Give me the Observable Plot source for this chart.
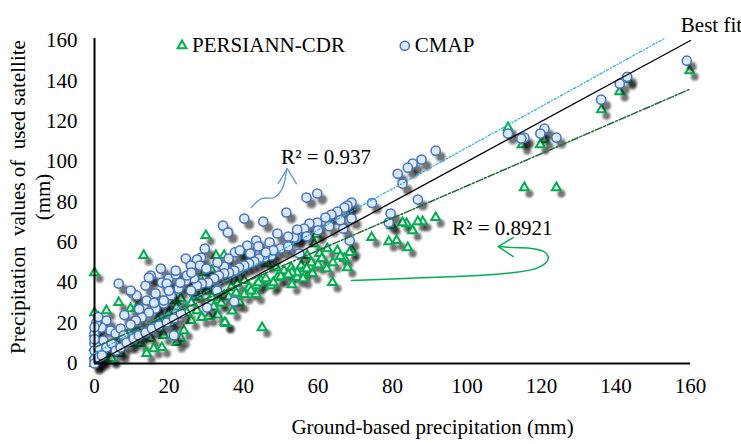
<!DOCTYPE html>
<html>
<head>
<meta charset="utf-8">
<script src="https://cdn.jsdelivr.net/npm/d3@7"></script>
<script src="https://cdn.jsdelivr.net/npm/@observablehq/plot@0.6"></script>
<style>
  html, body { margin: 0; padding: 0; background: #fff; }
</style>
</head>
<body>
<div id="chart"></div>
<script>
// ---- Data ----
const xTicks = [0, 20, 40, 60, 80, 100, 120, 140, 160];
const yTicks = [0, 20, 40, 60, 80, 100, 120, 140, 160];

// CMAP: [ground-based, satellite]
const cmapPoints = [
  [159,150],[143,142],[141,138.6],[136,130.7],[120.8,116.3],[119.7,113.9],[124,111.9],[115.4,111.9],[114.6,111.4],[111,113.9],
  [91.6,105.4],[87.8,101],[85.4,99],[84.1,97],[81.4,94],[82.7,89.1],[86.8,81.2],[79.5,74.3],[79,69.8],
  [74.5,79.5],[56.9,82.2],[59.8,84.2],[69,79.7],[67.9,78.2],[67.1,77.2],[65.2,75.2],[63.6,73.8],[62,72.3],[59.8,69.8],
  [57.7,69.3],[56.3,66.8],[54.4,64.4],[69,71.8],[66.8,66.8],[68.5,60.9],[55,54.5],[54.2,62.4],[51.5,74.8],[53.6,62.4],[54.4,66.3],
  [40.2,71.8],[45.3,70.3],[34.5,68.3],[35.8,64.9],[49.1,64.4],[52,62.9],[43.4,60.9],[41,58.4],[29.6,56.9],[37.7,55],
  [41.8,54.5],[28.6,52.5],[27.5,51.5],[28.3,48.5],[24.5,52],[47.4,53.5],[45.6,52.5],[44.2,52],[42.9,50.5],[41.5,49.5],
  [40.2,48.5],[38.8,47.5],[37.5,46],[36.1,45],[34.8,48],[34.8,44.6],[33.4,43.6],[32.1,42.1],[30.5,40.1],[28.8,39.6],
  [27.5,38.6],[25.9,36.1],[26.7,42.1],[24.8,43.1],[32.9,36.1],[37.5,30.7],[30.2,27.7],
  [6.5,39.6],[10,35.1],[11.3,33.7],[13.7,38.6],[15.1,43.6],[14,31.2],[16.4,34.7],[18.1,40.1],[19.9,42.1],[21.8,44.1],
  [25.9,48.5],[24.5,41.1],[22.6,37.1],[20.5,33.7],[18.6,29.7],[16.4,27.2],[14.6,25.2],[12.7,22.8],[11.1,21.3],[9.7,19.3],
  [3.2,21.3],[1.9,17.8],[4.3,16.3],[5.7,14.9],[7,17.3],[7.8,13.9],[0.5,20.3],[0,14.9],[0,9.9],[0,6.4],
  [1.1,7.9],[2.4,11.4],[3.2,7.9],[4.6,9.9],[5.7,6.4],[7,7.9],[8.6,10.4],[10.5,12.4],[11.9,13.9],[13.7,15.3],
  [15.4,17.3],[17.3,18.8],[19.4,20.3],[21.3,22.3],[23.2,24.8],[21.3,13.9],[18.6,31.2],[17.8,47],[19.4,39.6],[14.6,42.6],
  [9.7,36.1],[21.8,46],[24.8,43.6],[0,2],[0,0],[1,3],[0,12],[2,4],[0,18],[1,23],
  [8,24],[12,27],[16,30],[20,36],[23,40],[26,45],[30,47],[33,50],[36,52],[39,56],
  [44,58],[47,60],[50,57],[52,58],[57,63],[60,66],[63,68],[66,71],[48,56],[46,55]
];

// PERSIANN-CDR: [ground-based, satellite]
const persiannPoints = [
  [159.8,145],[143.1,140.6],[141,134.7],[136.1,125.7],[120.8,110.9],[119.7,108.4],[114.8,108.4],[111,116.8],[115.4,87.1],[124,87.1],
  [91.6,72.3],[88.1,70.3],[86.8,70.3],[85.4,65.8],[83.8,69.3],[84.1,57.4],[82.7,69.8],[79.8,68.3],[74.4,62.4],[79,60.4],[81.1,60.9],
  [59.6,63.9],[59,59.4],[69,56.4],[68.5,55],[65.2,55.9],[62.5,56.9],[60.4,54.5],[67.1,52],[67.9,47.5],[57.1,53.5],
  [58.2,50],[55.5,48.5],[62.3,47],[58.5,44.6],[55.8,45],[63.9,40.1],[54.4,42.6],
  [29.9,63.4],[32.6,53.5],[34.8,53.5],[39.6,55],[41.5,54.5],[31.5,46],[29.4,45],[46.4,49.5],[48.8,47.5],[50.9,46],
  [52.8,47.5],[54.4,45],[49.1,42.6],[47.4,38.6],[44.7,41.1],[43.4,38.6],[41.5,37.6],[40.2,41.1],[38.3,39.6],[36.7,37.6],
  [43.4,34.2],[40.2,34.2],[34.8,33.7],[33.4,31.2],[31.5,32.7],[27.5,26.2],[28.8,22.8],[30.7,23.3],[35.3,19.8],[45,17.8],
  [24.8,25.2],[25.9,21.3],[35,20.3],
  [0,45],[13.2,53.5],[6.5,30.2],[3.2,26.2],[9.7,27.2],[11.3,27.7],[16.4,28.7],[21.8,31.2],[23.2,32.2],[18.6,13.9],
  [15.1,12.4],[15.9,7.4],[18.1,7.9],[23.2,12.4],[9.7,9.9],[7,5],[0,25.2],[1.1,22.8],[8.4,13.9],[12.4,9.9],
  [14,5],[4.3,3],[16.7,17.3],[20.5,19.8],[24,16.3],[19.9,23.8],[22.1,10.4],[4.6,2.5],[53,45],
  [26,30],[28,33],[30,36],[32,28],[34,30],[36,33],[38,35],[39,30],[42,36],[44,40],
  [46,42],[48,40],[50,43],[52,44],[53,39],[56,42],[57,47],[60,49],[61,52],[64,50],
  [66,53],[29,40],[31,38],[27,35],[22,28],[20,25],[17,22],[12,15],[10,18],[6,10],
  [5,8],[3,6],[2,12],[0,4],[0,8],[0,15],[0,0],[1,1],[2,2],[37,26],[33,24]
];

// Trend lines: [x, y] end points
const bestFitLine = [[0,0],[160,160]];
const cmapFitLine = [[0,5],[153,161]];
const persiannFitLine = [[0,8],[160,136]];

// Annotation arrows (data coordinates)
const cmapArrow = [[42,77.2],[44.9,81.7],[48.2,82.2],[50.4,86.6],[51.6,96.5]];
const cmapArrowHead = [[49.3,89.1],[51.75,96.5],[54.2,89.1]];
const persiannArrow = [[69,41.1],[83.3,42.1],[110.2,44.6],[119.1,47.5],[121.8,52],[121,55],[117.5,56.9],[112.4,57.4],[108.4,57.9]];
const persiannArrowHead = [[112.4,62.4],[108.4,57.9],[112.4,53]];

const labels = {
  x: "Ground-based precipitation (mm)",
  y1: "Precipitation  values of  used satellite",
  y2: "(mm)",
  r2cmap: "R² = 0.937",
  r2pers: "R² = 0.8921",
  best: "Best fit",
  persiann: "PERSIANN-CDR",
  cmap: "CMAP"
};

const serif = "Liberation Serif, Times New Roman, serif";
const green = "#00b050";
const blue = "#4472c4";
const fs = 21;
const px = d => d[0], py = d => d[1];

// soft drop shadow built from layered, offset, translucent dots
const shadowLayers = (data, base) => [
  [base + 3.0, 0.1], [base + 2.0, 0.15], [base + 1.0, 0.2], [base, 0.25]
].map(([r, op]) => Plot.dot(data, {x: px, y: py, r, dx: 5, dy: 6, fill: "black", fillOpacity: op}));

const chart = Plot.plot({
  width: 741,
  height: 444,
  marginLeft: 94,
  marginRight: 51,
  marginTop: 40,
  marginBottom: 81,
  style: {fontFamily: serif, fontSize: fs + "px", color: "#000"},
  x: {domain: [0, 160], ticks: xTicks, tickSize: 0, tickPadding: 15, label: null},
  y: {domain: [0, 160], ticks: yTicks, tickSize: 0, tickPadding: 17, label: null},
  marks: [
    ...shadowLayers(persiannPoints, 2.5),
    Plot.dot(persiannPoints, {x: px, y: py, symbol: "triangle", r: 3.3, stroke: green, strokeWidth: 2, fill: "#eef8ee"}),
    ...shadowLayers(cmapPoints, 3.5),
    Plot.dot(cmapPoints, {x: px, y: py, symbol: "circle", r: 4.6, stroke: blue, strokeWidth: 1.5, fill: "#dce9f7"}),
    Plot.ruleX([0], {y1: 0, y2: 161, stroke: "#000", strokeWidth: 2}),
    Plot.ruleY([0], {x1: 0, x2: 160, stroke: "#000", strokeWidth: 2}),
    Plot.line(bestFitLine, {x: px, y: py, stroke: "#000", strokeWidth: 1.3}),
    Plot.line(cmapFitLine, {x: px, y: py, stroke: "#1fb0ea", strokeWidth: 1.2, strokeDasharray: "2.5,2,1,2"}),
    Plot.line(persiannFitLine, {x: px, y: py, stroke: "#1d6b3a", strokeWidth: 1.5, strokeDasharray: "7,2,2,2"}),
    Plot.line(cmapArrow, {x: px, y: py, curve: "catmull-rom", stroke: "#5b9bd5", strokeWidth: 1.3}),
    Plot.line(cmapArrowHead, {x: px, y: py, stroke: "#5b9bd5", strokeWidth: 1.3}),
    Plot.line(persiannArrow, {x: px, y: py, curve: "catmull-rom", stroke: green, strokeWidth: 1.5}),
    Plot.line(persiannArrowHead, {x: px, y: py, stroke: green, strokeWidth: 1.5}),
    Plot.text([labels.r2cmap], {x: 50.1, y: 102, text: d => d, textAnchor: "start", fontSize: fs, fill: "#000"}),
    Plot.text([labels.r2pers], {x: 96, y: 66.8, text: d => d, textAnchor: "start", fontSize: fs, fill: "#000"}),
    Plot.text([labels.best], {x: 157.4, y: 167.3, text: d => d, textAnchor: "start", fontSize: fs, fill: "#000"}),
    // legend
    Plot.dot([labels.persiann], {x: 23.5, y: 157.4, symbol: "triangle", r: 3.3, stroke: green, strokeWidth: 2, fill: "#eef8ee"}),
    Plot.text([labels.persiann], {x: 26.2, y: 157.4, text: d => d, textAnchor: "start", fontSize: fs, fill: "#000"}),
    Plot.dot([labels.cmap], {x: 83.3, y: 157.4, r: 4.6, stroke: blue, strokeWidth: 1.5, fill: "#dce9f7"}),
    Plot.text([labels.cmap], {x: 86, y: 157.4, text: d => d, textAnchor: "start", fontSize: fs, fill: "#000"}),
    // axis titles
    Plot.text([labels.x], {frameAnchor: "bottom", text: d => d, textAnchor: "middle", dx: 40, dy: 70, fontSize: fs, fill: "#000"}),
    Plot.text([labels.y1], {frameAnchor: "left", text: d => d, textAnchor: "middle", rotate: -90, dx: -76, dy: -5, fontSize: fs, fill: "#000"}),
    Plot.text([labels.y2], {frameAnchor: "left", text: d => d, textAnchor: "middle", rotate: -90, dx: -51, dy: -5, fontSize: fs, fill: "#000"})
  ]
});

chart.style.overflow = "visible";
chart.querySelectorAll("text").forEach(t => { t.setAttribute("xml:space", "preserve"); t.style.whiteSpace = "pre"; });
document.getElementById("chart").appendChild(chart);
</script>
</body>
</html>
